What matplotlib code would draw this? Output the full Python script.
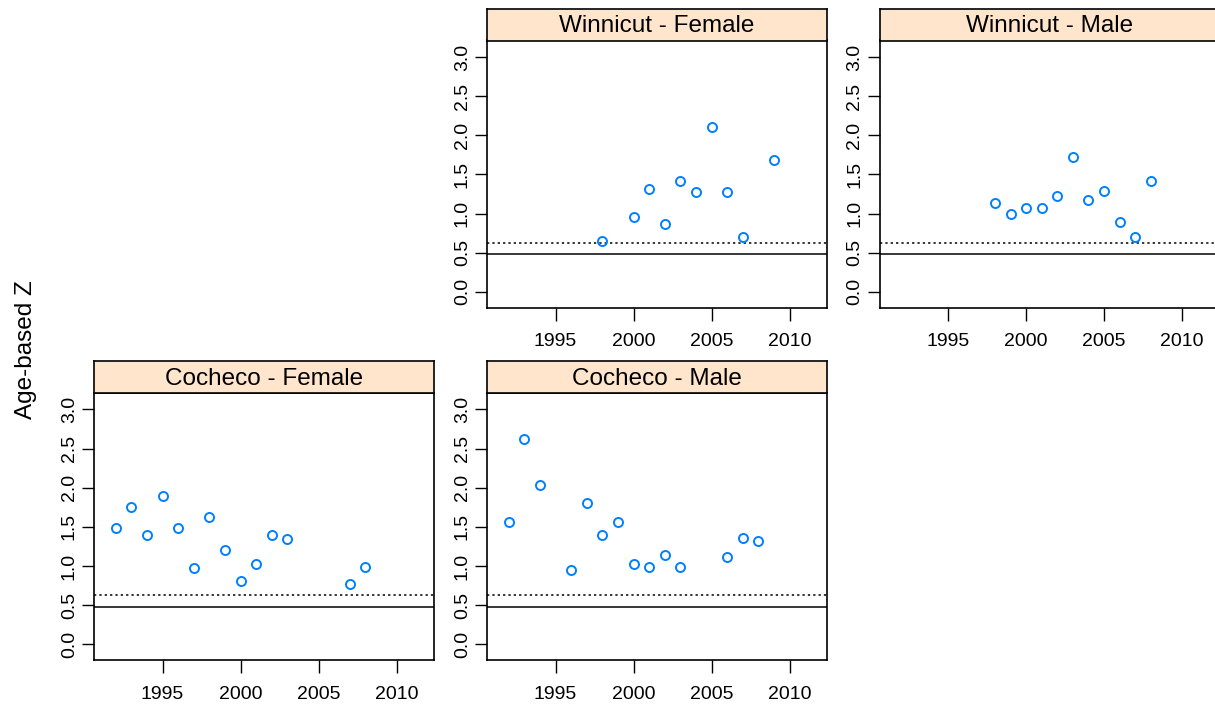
import matplotlib
matplotlib.use("Agg")
import matplotlib.pyplot as plt

plt.rcParams['font.family'] = ['Liberation Sans', 'DejaVu Sans']

# === DATA ===
panels = ["Winnicut - Female", "Winnicut - Male", "Cocheco - Female", "Cocheco - Male"]

wf_years = [1998, 2000, 2001, 2002, 2003, 2004, 2005, 2006, 2007, 2009]
wf_z = [0.65, 0.95, 1.31, 0.87, 1.42, 1.27, 2.10, 1.27, 0.70, 1.68]

wm_years = [1998, 1999, 2000, 2001, 2002, 2003, 2004, 2005, 2006, 2007, 2008]
wm_z = [1.13, 0.99, 1.07, 1.07, 1.23, 1.72, 1.17, 1.29, 0.89, 0.70, 1.42]

cf_years = [1992, 1993, 1994, 1995, 1996, 1997, 1998, 1999, 2000, 2001, 2002, 2003, 2007, 2008]
cf_z = [1.48, 1.75, 1.40, 1.89, 1.48, 0.97, 1.63, 1.21, 0.81, 1.03, 1.40, 1.34, 0.77, 0.99]

cm_years = [1992, 1993, 1994, 1996, 1997, 1998, 1999, 2000, 2001, 2002, 2003, 2006, 2007, 2008]
cm_z = [1.56, 2.62, 2.03, 0.95, 1.81, 1.40, 1.56, 1.03, 0.99, 1.14, 0.99, 1.12, 1.36, 1.32]

ref_solid = 0.48
ref_dotted = 0.63

x_ticks = [1995, 2000, 2005, 2010]
y_ticks = [0.0, 0.5, 1.0, 1.5, 2.0, 2.5, 3.0]

# === LAYOUT (pixels) ===
W, H = 1215, 713
PANEL_W = 340
PANEL_H = 267
STRIP_H = 32
STRIP_BG = "#FFE5CC"
PT_COL = "#0080FF"

# (left, plot top) in pixels for each panel
positions = {
    "Winnicut - Female": (487, 40.5),
    "Winnicut - Male": (879.5, 40.5),
    "Cocheco - Female": (94, 393),
    "Cocheco - Male": (487, 393),
}
series = {
    "Winnicut - Female": (wf_years, wf_z),
    "Winnicut - Male": (wm_years, wm_z),
    "Cocheco - Female": (cf_years, cf_z),
    "Cocheco - Male": (cm_years, cm_z),
}

fig = plt.figure(figsize=(W / 100, H / 100), dpi=100)

for name in panels:
    left, top = positions[name]
    ax = fig.add_axes([left / W, 1 - (top + PANEL_H) / H, PANEL_W / W, PANEL_H / H])
    yrs, z = series[name]
    ax.axhline(ref_solid, color="black", lw=1.1)
    ax.axhline(ref_dotted, color="black", lw=1.1, ls=(0, (1.5, 2)))
    ax.plot(yrs, z, "o", mfc="none", mec=PT_COL, mew=1.4, ms=6.5)
    ax.set_xlim(1990.6, 2012.4)
    ax.set_ylim(-0.2, 3.21)
    ax.set_xticks(x_ticks)
    ax.set_yticks(y_ticks)
    ax.set_yticklabels([f"{v:.1f}" for v in y_ticks], rotation=90, va="center")
    ax.tick_params(axis="x", direction="out", length=9.5, width=1.0, pad=9, labelsize=14)
    ax.tick_params(axis="y", direction="out", length=8.6, width=1.0, pad=3, labelsize=14)
    for s in ax.spines.values():
        s.set_linewidth(1.2)

    sax = fig.add_axes([left / W, 1 - top / H, PANEL_W / W, STRIP_H / H])
    sax.set_facecolor(STRIP_BG)
    sax.set_xticks([])
    sax.set_yticks([])
    for s in sax.spines.values():
        s.set_linewidth(1.2)
    sax.text(0.5, 0.45, name, ha="center", va="center", fontsize=17.5, transform=sax.transAxes)

fig.text(26 / W, 1 - 350 / H, "Age-based Z", rotation=90, ha="center", va="center", fontsize=17.5)

fig.savefig("out.png", dpi=100)
